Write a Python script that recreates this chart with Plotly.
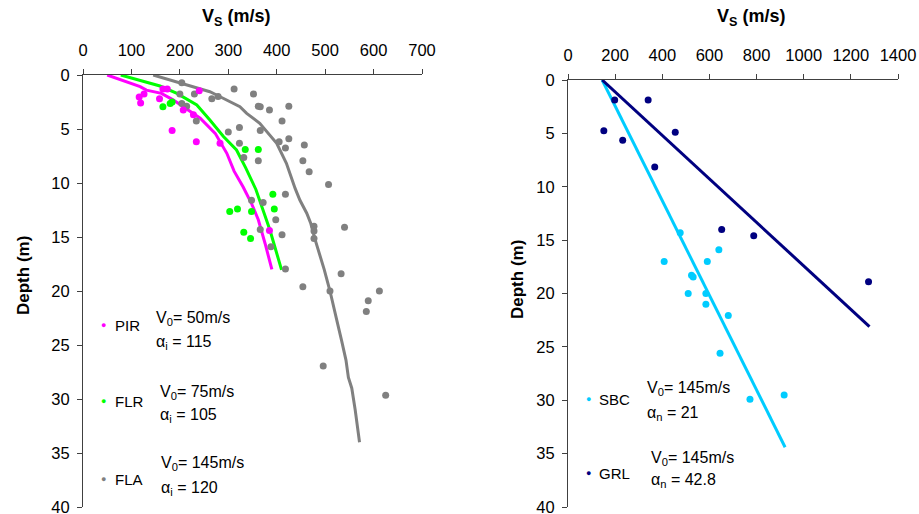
import plotly.graph_objects as go

W, H = 919, 514

# ---------------- Left panel data (Vs m/s, depth m) ----------------
pir_vs = [165, 174, 240, 116, 126, 119, 158, 207, 228, 184, 234, 283, 385]
pir_z = [1.3, 1.3, 1.45, 2.04, 1.76, 2.6, 2.19, 3.24, 3.67, 5.15, 6.17, 6.33, 14.4]

flr_vs = [165, 180, 184, 335, 362, 392, 395, 319, 303, 348, 332, 346]
flr_z = [2.93, 2.65, 2.5, 6.9, 6.9, 11.05, 12.4, 12.4, 12.65, 12.65, 14.57, 15.15]

fla_vs = [204, 312, 352, 200, 230, 266, 279, 362, 366, 385, 425, 204, 214, 234, 411,
          323, 300, 366, 405, 425, 418, 457, 323, 332, 362, 454, 467, 507, 418, 348,
          372, 398, 477, 477, 477, 540, 366, 411, 388, 418, 533, 454, 510, 612, 589,
          585, 496, 625]
fla_z = [0.71, 1.3, 1.76, 1.76, 1.76, 2.2, 2.0, 2.9, 2.95, 3.24, 2.9, 2.65, 2.9, 4.26, 4.26,
         4.85, 5.28, 5.15, 6.17, 5.9, 6.76, 6.48, 6.33, 7.65, 7.93, 7.93, 8.95, 10.15, 11.05, 11.6,
         11.8, 13.4, 14.0, 14.45, 15.15, 14.1, 14.3, 14.8, 15.9, 17.96, 18.4, 19.6, 20.0, 20.0, 20.9,
         21.9, 26.95, 29.65]

pir_fit_vs = [50, 118, 131, 162, 186, 207, 242, 273, 297, 312, 331, 348, 362, 376, 390]
pir_fit_z = [0, 1.08, 1.4, 1.7, 2.3, 2.93, 4.0, 5.4, 7.25, 8.9, 10.4, 11.9, 13.4, 15.6, 18.0]

flr_fit_vs = [78, 159, 194, 235, 262, 290, 317, 336, 357, 372, 386, 398, 410]
flr_fit_z = [0, 1.02, 1.7, 2.78, 4.17, 5.7, 6.94, 8.6, 10.6, 12.5, 14.35, 16.2, 18.05]

fla_fit_vs = [145, 204, 262, 276, 310, 324, 338, 365, 400, 420, 438, 448, 462, 470, 479,
              490, 498, 510, 517, 524, 534, 543, 548, 555, 562, 567, 571]
fla_fit_z = [0, 0.77, 1.55, 1.85, 2.6, 2.93, 3.55, 4.47, 6.33, 8.18, 10.5, 11.6, 12.8, 13.7, 15.2,
             16.8, 18.0, 20.0, 21.45, 22.7, 24.6, 26.4, 28.0, 29.0, 31.0, 32.6, 34.0]

# ---------------- Right panel data ----------------
sbc_vs = [476, 640, 408, 591, 524, 531, 510, 585, 585, 680, 645, 772, 917]
sbc_z = [14.3, 15.9, 17.0, 17.0, 18.3, 18.46, 20.0, 20.0, 21.0, 22.05, 25.6, 29.9, 29.5]

grl_vs = [198, 340, 152, 455, 232, 368, 652, 788, 1275]
grl_z = [1.87, 1.87, 4.75, 4.9, 5.65, 8.15, 14.0, 14.6, 18.9]

sbc_fit_vs = [145, 921]
sbc_fit_z = [0, 34.4]
grl_fit_vs = [145, 1279]
grl_fit_z = [0, 23.1]

left_ticks = [0, 100, 200, 300, 400, 500, 600, 700]
right_ticks = [0, 200, 400, 600, 800, 1000, 1200, 1400]
depth_ticks = [0, 5, 10, 15, 20, 25, 30, 35, 40]

C_PIR, C_FLR, C_FLA = "#FF00FF", "#00FF00", "#808080"
C_SBC, C_GRL = "#00CCFF", "#000080"

FONT = "Liberation Sans, Arial, sans-serif"

fig = go.Figure()

def pts(x, y, c, xa, ya):
    fig.add_trace(go.Scatter(x=x, y=y, mode="markers", xaxis=xa, yaxis=ya,
                             marker=dict(color=c, size=7, line=dict(width=0)),
                             showlegend=False, hoverinfo="skip", cliponaxis=False))

def line(x, y, c, xa, ya):
    fig.add_trace(go.Scatter(x=x, y=y, mode="lines", xaxis=xa, yaxis=ya,
                             line=dict(color=c, width=3), showlegend=False,
                             hoverinfo="skip"))

line(fla_fit_vs, fla_fit_z, C_FLA, "x", "y")
line(flr_fit_vs, flr_fit_z, C_FLR, "x", "y")
line(pir_fit_vs, pir_fit_z, C_PIR, "x", "y")
pts(fla_vs, fla_z, C_FLA, "x", "y")
pts(flr_vs, flr_z, C_FLR, "x", "y")
pts(pir_vs, pir_z, C_PIR, "x", "y")

line(sbc_fit_vs, sbc_fit_z, C_SBC, "x2", "y2")
line(grl_fit_vs, grl_fit_z, C_GRL, "x2", "y2")
pts(sbc_vs, sbc_z, C_SBC, "x2", "y2")
pts(grl_vs, grl_z, C_GRL, "x2", "y2")

def px(x):
    return x / W

def py(y):
    return 1 - y / H

tick_font = dict(family=FONT, size=16.5, color="black")
ax_common = dict(showgrid=False, zeroline=False, showline=True, linecolor="#404040",
                 linewidth=1, ticks="outside", ticklen=5, tickcolor="#404040",
                 tickfont=tick_font, mirror=False, automargin=False,
                 ticklabeloverflow="allow")

fig.update_layout(
    width=W, height=H, margin=dict(l=0, r=0, t=0, b=0, autoexpand=False),
    paper_bgcolor="white", plot_bgcolor="white",
    xaxis=dict(domain=[px(83), px(422)], range=[0, 700], side="top", anchor="y",
               tickvals=left_ticks, ticklabelstandoff=6, **ax_common),
    yaxis=dict(domain=[py(507), py(75)], range=[40, 0], anchor="x",
               tickvals=depth_ticks, ticklabelstandoff=4, **ax_common),
    xaxis2=dict(domain=[px(568), px(898)], range=[0, 1400], side="top", anchor="y2",
                tickvals=right_ticks, ticklabelstandoff=6, **ax_common),
    yaxis2=dict(domain=[py(507), py(80)], range=[40, 0], anchor="x2",
                tickvals=depth_ticks, ticklabelstandoff=4, **ax_common),
)

ann = []

def text(x, y, t, size=16, bold=False, xanchor="left", angle=0, color="black"):
    if bold:
        t = "<b>" + t + "</b>"
    ann.append(dict(x=px(x), y=py(y), xref="paper", yref="paper", text=t,
                    showarrow=False, xanchor=xanchor, yanchor="middle",
                    textangle=angle, font=dict(family=FONT, size=size, color=color)))

# titles
text(236, 18, "V<sub>S</sub> (m/s)", size=18, bold=True, xanchor="center")
text(751, 18, "V<sub>S</sub> (m/s)", size=18, bold=True, xanchor="center")
text(23, 276, "Depth (m)", size=17, bold=True, xanchor="center", angle=-90)
text(517, 280, "Depth (m)", size=17, bold=True, xanchor="center", angle=-90)

# legends (left)
leg_left = [
    (C_PIR, "PIR", 325, 154, 318, 342, "50m/s", "α<sub>i</sub> = 115"),
    (C_FLR, "FLR", 401, 158, 392, 415, "75m/s", "α<sub>i</sub> = 105"),
    (C_FLA, "FLA", 479, 159, 463, 488, "145m/s", "α<sub>i</sub> = 120"),
]
for c, name, yd, xv, yv, ya, v0, a in leg_left:
    text(103, yd, "●", size=9, xanchor="center", color=c)
    text(113, yd, name, size=15)
    text(xv, yv, "V<sub>0</sub>= " + v0, size=16)
    text(xv, ya, a, size=16)

leg_right = [
    (C_SBC, "SBC", 399, 645, 388, 413, "145m/s", "α<sub>n</sub> = 21"),
    (C_GRL, "GRL", 473, 649, 458, 480, "145m/s", "α<sub>n</sub> = 42.8"),
]
for c, name, yd, xv, yv, ya, v0, a in leg_right:
    text(588, yd, "●", size=9, xanchor="center", color=c)
    text(597, yd, name, size=15)
    text(xv, yv, "V<sub>0</sub>= " + v0, size=16)
    text(xv, ya, a, size=16)

fig.update_layout(annotations=ann)
fig.write_html("out.html", config={"displayModeBar": False},
               post_script="document.body.style.margin='0';document.body.style.overflow='hidden';")
